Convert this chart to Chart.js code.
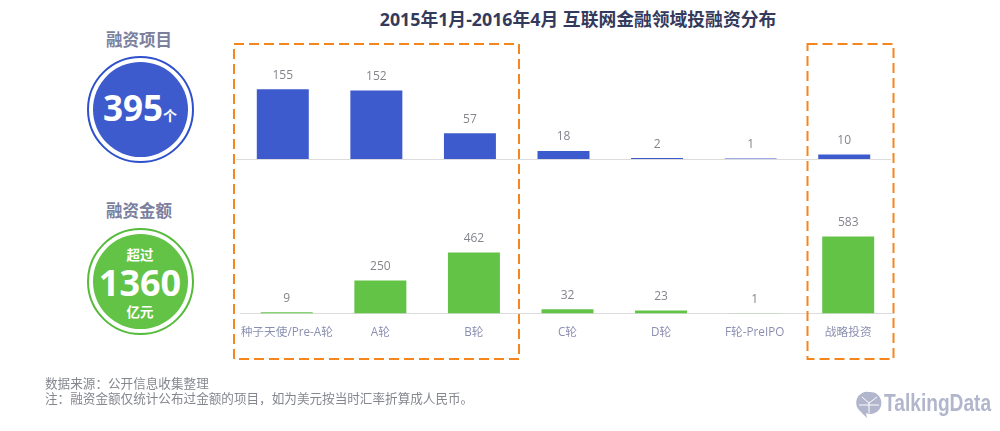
<!DOCTYPE html>
<html>
<head>
<meta charset="utf-8">
<script src="https://cdn.jsdelivr.net/npm/chart.js@4"></script>
<style>
    html, body { margin: 0; padding: 0; background: #fff; }
    #page { position: relative; width: 1000px; height: 431px; overflow: hidden; font-family: "Open Sans", "Noto Sans CJK SC", sans-serif; }
    #page div, #page canvas, #page svg { position: absolute; }
    .center { text-align: center; white-space: nowrap; }
    .title { left: 278px; width: 600px; top: 7px; line-height: 24px; font-size: 17.8px; font-weight: 700; color: #333a5c; }
    .kpi { left: 79px; width: 120px; line-height: 22px; font-size: 16.5px; font-weight: 700; color: #7b7f9e; }
    .ring { left: 87px; width: 103px; height: 103px; border-radius: 50%; border: 2px solid; }
    .disc { left: 93px; width: 95px; height: 95px; border-radius: 50%; }
    .white { color: #fff; font-weight: 700; left: 80px; width: 120px; }
    .note { left: 45px; font-size: 12.6px; line-height: 16px; color: #85878f; white-space: nowrap; }
    .logo { left: 884px; top: 390px; font-family: "Liberation Sans", sans-serif; font-size: 23.5px; line-height: 26px; font-weight: 700; color: #b1b6cc; white-space: nowrap; transform: scaleX(0.815); transform-origin: left top; }
</style>
</head>
<body>
<div id="page">
    <div class="title center">2015年1月-2016年4月 互联网金融领域投融资分布</div>

    <div class="kpi center" style="top:29px">融资项目</div>
    <div class="ring" style="top:56px;border-color:#2f50cc"></div>
    <div class="disc" style="top:62px;background:#3d5bcd"></div>
    <div class="white center" style="top:84px;line-height:48px;font-size:35px">395<span style="font-size:14px">个</span></div>

    <div class="kpi center" style="top:200px">融资金额</div>
    <div class="ring" style="top:228px;border-color:#55bb3a"></div>
    <div class="disc" style="top:234px;background:#62c346"></div>
    <div class="white center" style="top:245px;line-height:20px;font-size:13.5px">超过</div>
    <div class="white center" style="top:259px;line-height:48px;font-size:36px">1360</div>
    <div class="white center" style="top:302px;line-height:20px;font-size:13.5px">亿元</div>

    <canvas id="topChart" style="left:236px;top:40px"></canvas>
    <canvas id="bottomChart" style="left:240px;top:205px"></canvas>

    <svg width="1000" height="431" style="left:0;top:0">
        <rect x="234" y="44" width="285" height="315" fill="none" stroke="#f5851f" stroke-width="2" stroke-dasharray="10 5"/>
        <rect x="807.5" y="44" width="86" height="315" fill="none" stroke="#f5851f" stroke-width="2" stroke-dasharray="10 5"/>
        <path d="M869 392 a11 11 0 1 1 -3 21 l1 5 l-6 -6 a11 11 0 0 1 8 -20z" fill="#b1b6cc"/>
        <path d="M862 397 l7 6 l8 -6 M869 403 v10 M859 405 h20" stroke="#fff" stroke-width="1" fill="none"/>
    </svg>

    <div class="note" style="top:376px">数据来源：公开信息收集整理</div>
    <div class="note" style="top:391px">注：融资金额仅统计公布过金额的项目，如为美元按当时汇率折算成人民币。</div>
    <div class="logo">TalkingData</div>
</div>

<script>
// --- data ---
const categories = ["种子天使/Pre-A轮", "A轮", "B轮", "C轮", "D轮", "F轮-PreIPO", "战略投资"];
const projectCounts = [155, 152, 57, 18, 2, 1, 10];
const fundingAmounts = [9, 250, 462, 32, 23, 1, 583];

const FONT = '"Open Sans", "Noto Sans CJK SC", sans-serif';

// draws the number above each bar
const valueLabels = {
    id: 'valueLabels',
    afterDatasetsDraw(chart) {
        const ctx = chart.ctx;
        const meta = chart.getDatasetMeta(0);
        ctx.save();
        ctx.font = '12px ' + FONT;
        ctx.fillStyle = '#83858c';
        ctx.textAlign = 'center';
        ctx.textBaseline = 'middle';
        meta.data.forEach((bar, i) => {
            ctx.fillText(chart.data.datasets[0].data[i], bar.x, bar.y - 14);
        });
        ctx.restore();
    }
};

function makeChart(id, width, height, values, color, yMax, axisHeight, showLabels) {
    const canvas = document.getElementById(id);
    canvas.width = width;
    canvas.height = height;
    canvas.style.width = width + 'px';
    canvas.style.height = height + 'px';
    return new Chart(canvas.getContext('2d'), {
        type: 'bar',
        data: {
            labels: categories,
            datasets: [{
                data: values,
                backgroundColor: color,
                categoryPercentage: 1,
                barPercentage: 52 / 93.6
            }]
        },
        options: {
            responsive: false,
            animation: false,
            layout: { padding: 0, autoPadding: false },
            plugins: { legend: { display: false }, tooltip: { enabled: false } },
            scales: {
                x: {
                    // fixed axis height, and no inset for the wide first label
                    afterFit: s => { s.height = axisHeight; s.paddingLeft = 0; s.paddingRight = 0; },
                    grid: { display: false },
                    border: { color: '#dcdcdf', width: 1 },
                    ticks: {
                        display: showLabels,
                        maxRotation: 0,
                        autoSkip: false,
                        padding: 4,
                        color: '#8a8fb0',
                        font: { family: FONT, size: 11.7 }
                    }
                },
                y: { display: false, min: 0, max: yMax }
            }
        },
        plugins: [valueLabels]
    });
}

makeChart('topChart', 655, 125, projectCounts, '#3d5bcd', 264, 6, false);
makeChart('bottomChart', 655, 145, fundingAmounts, '#62c346', 822, 36.5, true);
</script>
</body>
</html>
